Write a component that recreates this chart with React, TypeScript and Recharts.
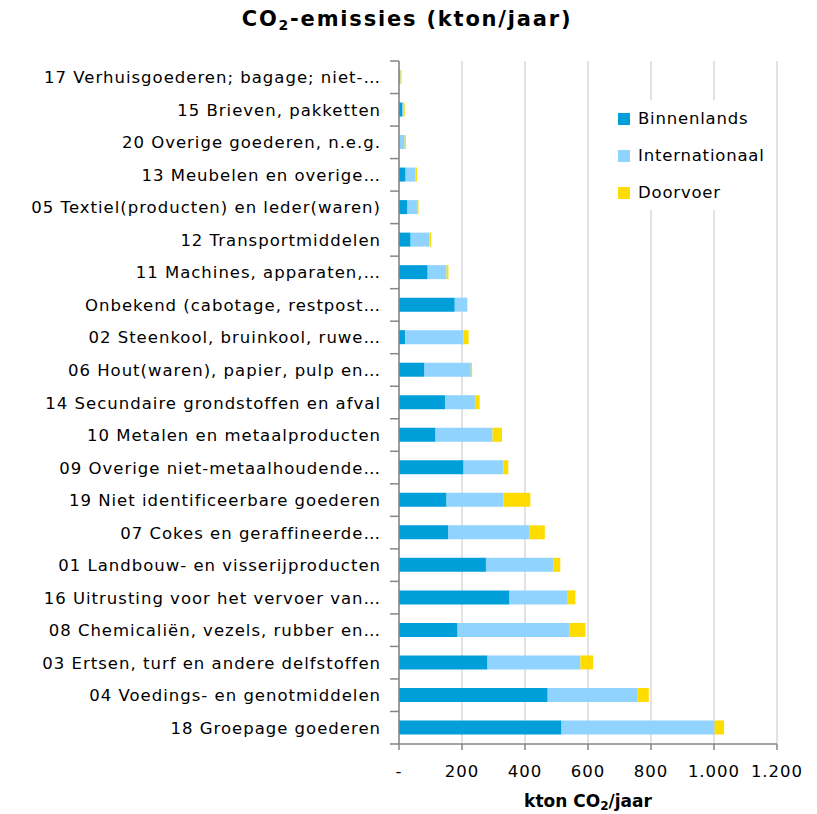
import React from 'react'
import { BarChart, Bar, XAxis, YAxis, CartesianGrid } from 'recharts'

const categories = [
  '17 Verhuisgoederen; bagage; niet-…',
  '15 Brieven, pakketten',
  '20 Overige goederen, n.e.g.',
  '13 Meubelen en overige…',
  '05 Textiel(producten) en leder(waren)',
  '12 Transportmiddelen',
  '11 Machines, apparaten,…',
  'Onbekend (cabotage, restpost…',
  '02 Steenkool, bruinkool, ruwe…',
  '06 Hout(waren), papier, pulp en…',
  '14 Secundaire grondstoffen en afval',
  '10 Metalen en metaalproducten',
  '09 Overige niet-metaalhoudende…',
  '19 Niet identificeerbare goederen',
  '07 Cokes en geraffineerde…',
  '01 Landbouw- en visserijproducten',
  '16 Uitrusting voor het vervoer van…',
  '08 Chemicaliën, vezels, rubber en…',
  '03 Ertsen, turf en andere delfstoffen',
  '04 Voedings- en genotmiddelen',
  '18 Groepage goederen',
]

const binnenlands = [2, 11, 1, 21, 27, 37, 91, 177, 20, 81, 146, 116, 205, 151, 157, 276, 351, 186, 281, 472, 516]
const internationaal = [3, 2, 17, 31, 30, 60, 60, 40, 184, 147, 95, 181, 127, 181, 256, 215, 185, 356, 295, 284, 486]
const doorvoer = [3, 5, 4, 5, 5, 5, 6, 0, 17, 4, 15, 30, 15, 85, 50, 21, 24, 50, 40, 37, 30]

const xTicks = [0, 200, 400, 600, 800, 1000, 1200]

const seriesNames = ['Binnenlands', 'Internationaal', 'Doorvoer']
const colors = ['#009fda', '#8fd3fe', '#ffdc00']

const data = categories.map((name, i) => ({
  name,
  binnenlands: binnenlands[i],
  internationaal: internationaal[i],
  doorvoer: doorvoer[i],
}))

const FONT = '"DejaVu Sans", Verdana, sans-serif'
const PLOT_TOP = 61
const PLOT_BOTTOM = 744
const BAND = (PLOT_BOTTOM - PLOT_TOP) / categories.length

const formatX = (v: number) => {
  if (v === 0) return '-'
  return v.toLocaleString('de-DE')
}

const CategoryTick = (props: any) => {
  const { x, y, payload, index } = props
  return (
    <g>
      <text
        x={x - 18}
        y={y}
        dy={6}
        textAnchor="end"
        fill="#000"
        fontSize={16.5}
        letterSpacing={1}
        fontFamily={FONT}
      >
        {payload.value}
      </text>
      <line x1={x - 9} x2={x} y1={y + BAND / 2} y2={y + BAND / 2} stroke="#868686" strokeWidth={1.5} />
      {index === 0 && (
        <line x1={x - 9} x2={x} y1={y - BAND / 2} y2={y - BAND / 2} stroke="#868686" strokeWidth={1.5} />
      )}
    </g>
  )
}

export default function App() {
  return (
    <div style={{ position: 'absolute', left: 0, top: 0, width: 817, height: 814, background: '#fff' }}>
      <div
        style={{
          position: 'absolute', left: 0, top: 7, width: 814, textAlign: 'center',
          fontFamily: FONT, fontWeight: 'bold', fontSize: 21, letterSpacing: 1.8, color: '#000',
        }}
      >
        CO<sub style={{ fontSize: 14, verticalAlign: -4 }}>2</sub>-emissies (kton/jaar)
      </div>
      <BarChart
        width={817}
        height={814}
        data={data}
        layout="vertical"
        margin={{ top: PLOT_TOP, right: 40, left: 8, bottom: 30 }}
        barSize={14}
      >
        <CartesianGrid horizontal={false} stroke="#d9d9d9" strokeWidth={1.5} />
        <XAxis
          type="number"
          domain={[0, 1200]}
          ticks={xTicks}
          tickFormatter={formatX}
          interval={0}
          height={40}
          tick={{ fill: '#000', fontSize: 16.5, fontFamily: FONT, letterSpacing: 1 }}
          axisLine={{ stroke: '#868686', strokeWidth: 1.5 }}
          tickLine={{ stroke: '#868686', strokeWidth: 1.5 }}
          tickSize={6}
          tickMargin={15}
        />
        <YAxis
          type="category"
          dataKey="name"
          width={391}
          interval={0}
          tick={<CategoryTick />}
          tickLine={false}
          tickSize={0}
          tickMargin={0}
          axisLine={{ stroke: '#868686', strokeWidth: 1.5 }}
        />
        <Bar dataKey="binnenlands" name="Binnenlands" stackId="a" fill={colors[0]} isAnimationActive={false} />
        <Bar dataKey="internationaal" name="Internationaal" stackId="a" fill={colors[1]} isAnimationActive={false} />
        <Bar dataKey="doorvoer" name="Doorvoer" stackId="a" fill={colors[2]} isAnimationActive={false} />
      </BarChart>
      <div
        style={{
          position: 'absolute', left: 594, top: 100, width: 181, height: 110, background: '#fff',
          fontFamily: FONT, fontSize: 16.5, letterSpacing: 0.8, boxSizing: 'border-box', paddingLeft: 24, paddingTop: 0,
        }}
      >
        {seriesNames.map((s, i) => (
          <div key={s} style={{ display: 'flex', alignItems: 'center', height: 37 }}>
            <span style={{ width: 12, height: 12, background: colors[i], marginRight: 8, display: 'inline-block' }} />
            <span style={{ color: '#000' }}>{s}</span>
          </div>
        ))}
      </div>
      <div
        style={{
          position: 'absolute', left: 399, top: 791, width: 378, textAlign: 'center',
          fontFamily: FONT, fontWeight: 'bold', fontSize: 17, color: '#000',
        }}
      >
        kton CO<sub style={{ fontSize: 12, verticalAlign: -3 }}>2</sub>/jaar
      </div>
    </div>
  )
}
